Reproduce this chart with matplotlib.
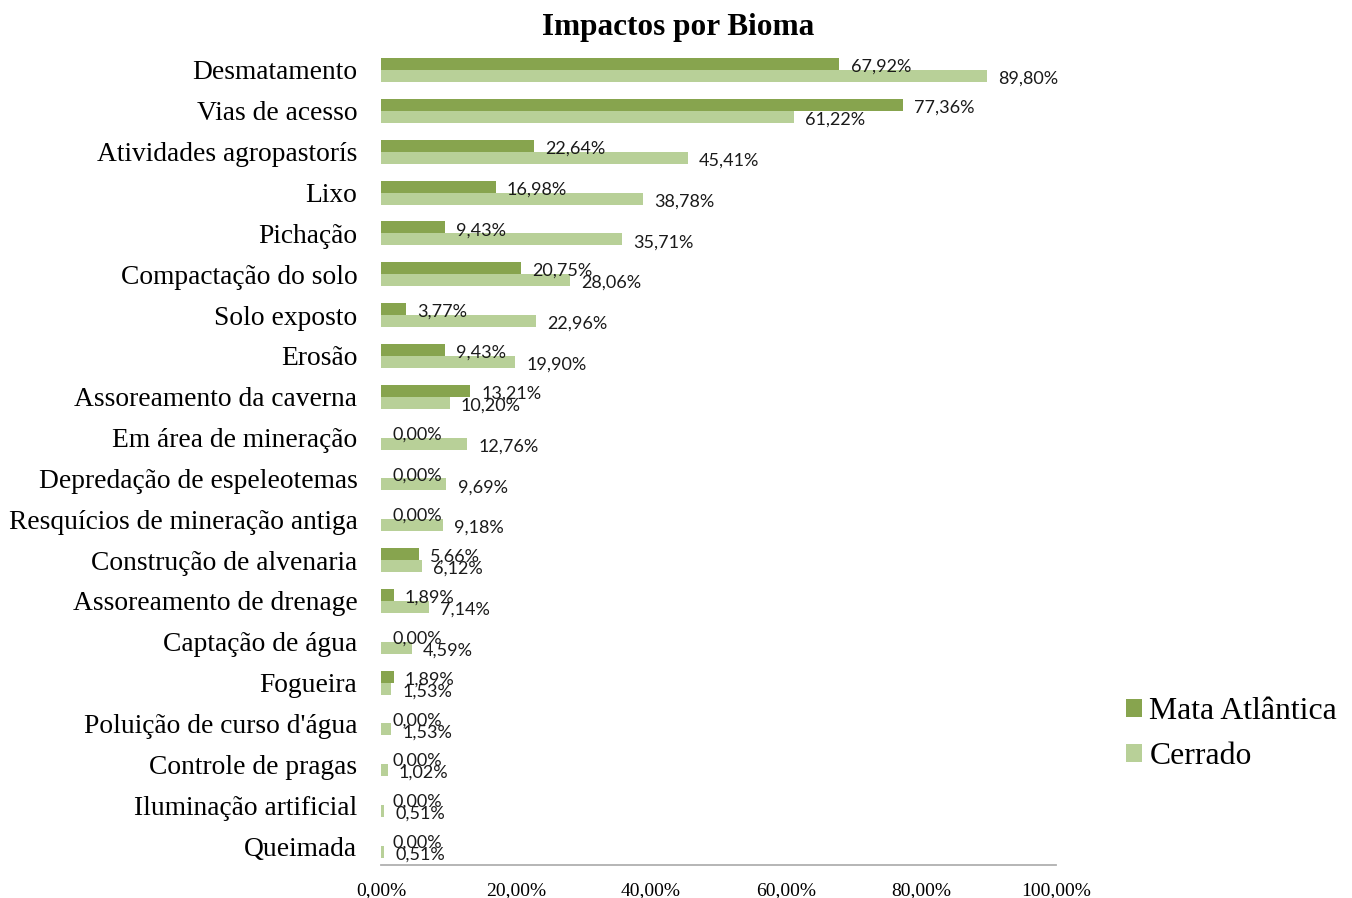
import matplotlib.pyplot as plt
import numpy as np

categories = [
    "Desmatamento", "Vias de acesso", "Atividades agropastorís", "Lixo",
    "Pichação", "Compactação do solo", "Solo exposto", "Erosão",
    "Assoreamento da caverna", "Em área de mineração",
    "Depredação de espeleotemas", "Resquícios de mineração antiga",
    "Construção de alvenaria", "Assoreamento de drenage",
    "Captação de água", "Fogueira", "Poluição de curso d'água",
    "Controle de pragas", "Iluminação artificial", "Queimada",
]
mata_atlantica = [67.92, 77.36, 22.64, 16.98, 9.43, 20.75, 3.77, 9.43, 13.21, 0.00,
                  0.00, 0.00, 5.66, 1.89, 0.00, 1.89, 0.00, 0.00, 0.00, 0.00]
cerrado = [89.80, 61.22, 45.41, 38.78, 35.71, 28.06, 22.96, 19.90, 10.20, 12.76,
           9.69, 9.18, 6.12, 7.14, 4.59, 1.53, 1.53, 1.02, 0.51, 0.51]
x_ticks = [0, 20, 40, 60, 80, 100]

DARK = "#87a44e"
LIGHT = "#b8d098"
SERIF = ["Liberation Serif", "DejaVu Serif"]
LABEL_FONT = ["Lato", "DejaVu Sans"]


def pct(v):
    return f"{v:.2f}".replace(".", ",") + "%"


fig = plt.figure(figsize=(13.52, 8.98), dpi=100)
ax = fig.add_axes([381 / 1352, 1 - 865 / 898, 675 / 1352, (865 - 51) / 898])

y = np.arange(len(categories))
h = 0.294
ax.barh(y - h / 2, mata_atlantica, height=h, color=DARK, label="Mata Atlântica")
ax.barh(y + h / 2, cerrado, height=h, color=LIGHT, label="Cerrado")

# value labels, Excel style: just right of the bar end
for yi, v in zip(y, mata_atlantica):
    ax.annotate(pct(v), (v, yi - h / 2), xytext=(8, -2), textcoords="offset points",
                va="center", ha="left", fontsize=13, family=LABEL_FONT, color="#1a1a1a")
for yi, v in zip(y, cerrado):
    ax.annotate(pct(v), (v, yi + h / 2), xytext=(8, -2), textcoords="offset points",
                va="center", ha="left", fontsize=13, family=LABEL_FONT, color="#1a1a1a")

ax.set_xlim(0, 100)
ax.set_ylim(len(categories) - 1 + 0.465, -0.465)
ax.set_yticks(y)
ax.set_yticklabels(categories, family=SERIF, fontsize=19.8)
ax.set_xticks(x_ticks)
ax.set_xticklabels([pct(t) for t in x_ticks], family=SERIF, fontsize=14)
ax.tick_params(axis="y", length=0, pad=17)
ax.tick_params(axis="x", length=0, pad=12)

for side in ["top", "right", "left"]:
    ax.spines[side].set_visible(False)
ax.spines["bottom"].set_color("#b0b0b0")
ax.spines["bottom"].set_linewidth(1.3)

fig.text(0.5015, 1 - 27 / 898, "Impactos por Bioma", ha="center", va="center",
         family=SERIF, fontsize=22.5, fontweight="bold")

fig.legend(loc="center left", bbox_to_anchor=(1097 / 1352, 1 - 734 / 898),
           frameon=False, prop={"family": SERIF, "size": 22.9},
           handlelength=0.5, handleheight=0.5, handletextpad=0.25,
           labelspacing=0.5)

fig.savefig("out.png", dpi=100)
